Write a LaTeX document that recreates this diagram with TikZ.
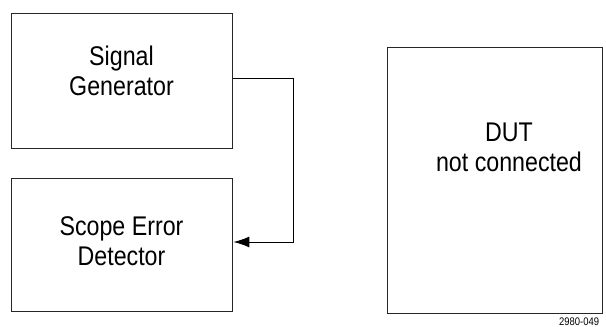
\documentclass[tikz,border=0pt]{standalone}
\usepackage{fontspec}
\setmainfont{Liberation Sans}[FakeStretch=0.86]
\usetikzlibrary{arrows.meta}
\begin{document}
\begin{tikzpicture}[x=1pt,y=-1pt,
  box/.style={draw=black!85,line width=1.4pt,minimum width=221pt,anchor=north west,inner sep=0pt},
  lbl/.style={font=\fontsize{27}{30}\selectfont,align=center,inner sep=0pt},
  conn/.style={draw,line width=1pt,-{Latex[length=16pt,width=11pt]}}]
\useasboundingbox (0,0) rectangle (606,327);
\clip (0,0) rectangle (606,327);
\node[box,minimum height=135pt] (sg) at (11,13) {};
\node[box,minimum height=133pt] (sed) at (11,178) {};
\node[box,minimum width=215pt,minimum height=266pt] (dut) at (387,47) {};
\node[lbl] (sgt) at (121.5,70.5) {Signal\\Generator};
\node[lbl] (sedt) at (121.5,241) {Scope Error\\Detector};
\node[lbl] (dutt) at (509,147) {DUT\\not connected};
\node[font=\fontsize{11}{12}\selectfont,anchor=base west,inner sep=0pt] (num) at (559,325) {2980-049};
\coordinate (c1) at (293,78);
\coordinate (c2) at (293,242);
\draw[conn] (sg.east |- c1) -- (c1) -- (c2) -- (sed.east |- c2);
\end{tikzpicture}
\end{document}
